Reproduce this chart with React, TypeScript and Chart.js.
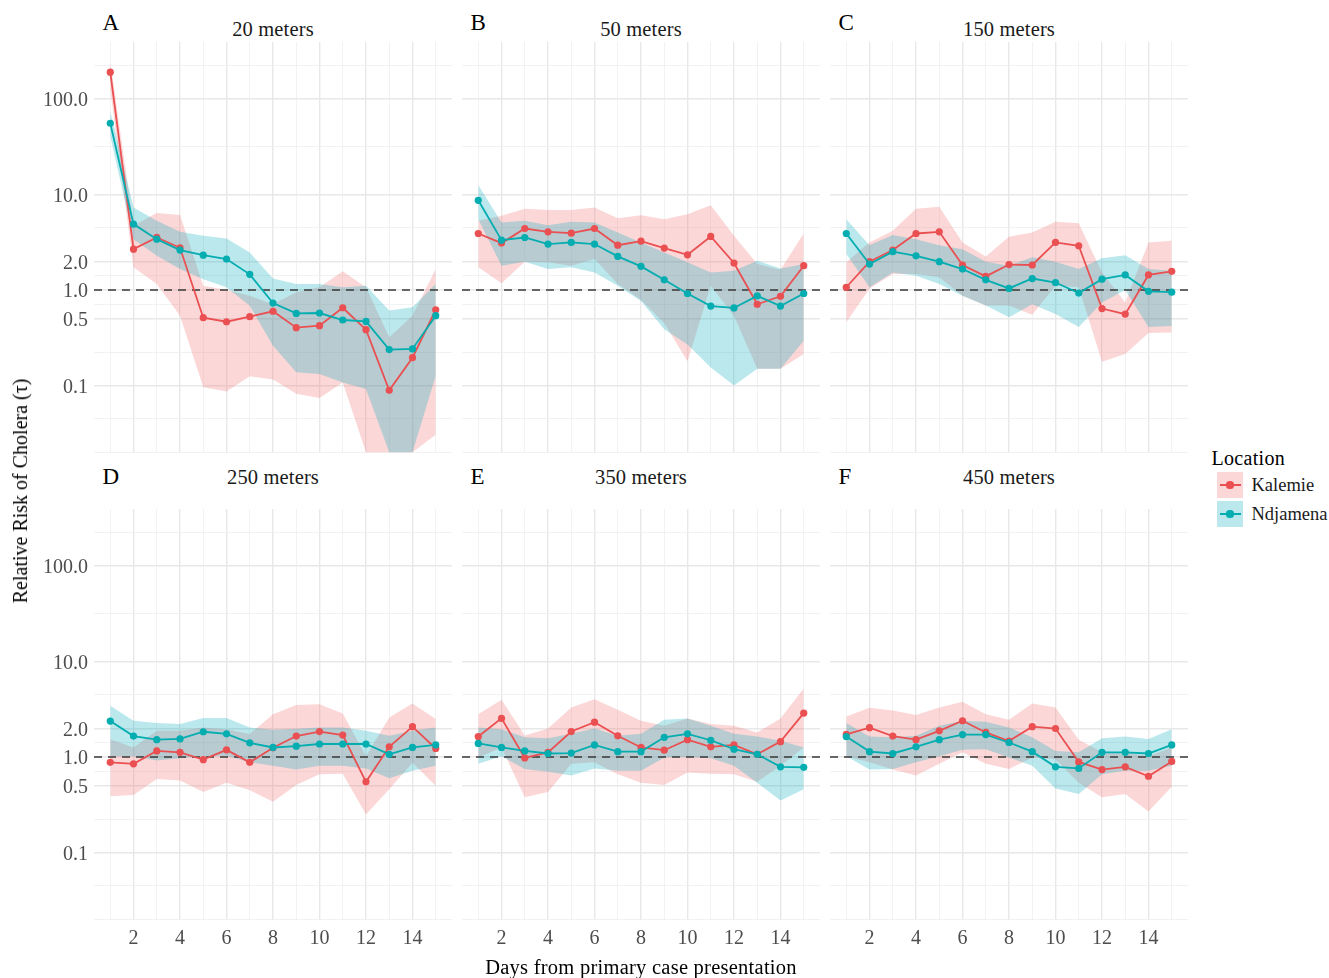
import React, { useEffect, useRef } from 'react';
import { Chart, registerables } from 'chart.js';

Chart.register(...registerables);

// ---------------- data ----------------
const DAYS = [1, 2, 3, 4, 5, 6, 7, 8, 9, 10, 11, 12, 13, 14, 15];
const X_TICKS = [2, 4, 6, 8, 10, 12, 14];
const Y_TICKS = [0.1, 0.5, 1, 2, 10, 100];
const Y_TICK_LABELS = ['0.1', '0.5', '1.0', '2.0', '10.0', '100.0'];
const REF_LINE = 1;

const PANEL_LETTERS = ['A', 'B', 'C', 'D', 'E', 'F'];
const PANEL_TITLES = ['20 meters', '50 meters', '150 meters', '250 meters', '350 meters', '450 meters'];
const LOCATIONS = ['Kalemie', 'Ndjamena'];

// 20 meters
const KAL_A = [191, 2.68, 3.56, 2.77, 0.514, 0.466, 0.526, 0.6, 0.404, 0.424, 0.653, 0.385, 0.0894, 0.196, 0.622];
const KAL_A_LO = [126, 1.73, 1.16, 0.54, 0.096, 0.087, 0.125, 0.116, 0.082, 0.074, 0.108, 0.02, 0.02, 0.02, 0.0305];
const KAL_A_HI = [250, 4.7, 6.4, 6.1, 1.11, 1.0, 0.87, 0.71, 0.95, 1.07, 1.57, 1.07, 0.32, 0.54, 1.66];
const NDJ_A = [55.7, 4.9, 3.41, 2.62, 2.32, 2.11, 1.46, 0.731, 0.57, 0.575, 0.486, 0.47, 0.238, 0.242, 0.539];
const NDJ_A_LO = [41, 3.41, 2.28, 1.66, 1.3, 1.07, 0.686, 0.262, 0.138, 0.132, 0.108, 0.092, 0.02, 0.02, 0.127];
const NDJ_A_HI = [75, 7.3, 5.3, 4.07, 3.7, 3.47, 2.48, 1.32, 1.16, 1.16, 1.07, 1.11, 0.61, 0.66, 1.16];

// 50 meters
const KAL_B = [3.91, 3.1, 4.41, 4.07, 3.94, 4.41, 2.95, 3.25, 2.75, 2.34, 3.64, 1.92, 0.71, 0.86, 1.8];
const KAL_B_LO = [1.73, 1.18, 1.98, 1.95, 1.8, 2.11, 1.16, 0.79, 0.45, 0.18, 1.11, 0.54, 0.15, 0.15, 0.214];
const KAL_B_HI = [5.3, 6.0, 7.1, 6.9, 6.9, 7.3, 5.66, 6.08, 5.52, 6.23, 7.73, 3.7, 1.87, 1.63, 3.91];
const NDJ_B = [8.7, 3.33, 3.55, 3.03, 3.15, 3.03, 2.25, 1.77, 1.28, 0.92, 0.68, 0.65, 0.87, 0.68, 0.92];
const NDJ_B_LO = [5.5, 1.8, 1.98, 1.66, 1.73, 1.53, 1.11, 0.77, 0.39, 0.27, 0.155, 0.1, 0.15, 0.15, 0.295];
const NDJ_B_HI = [12.6, 5.1, 5.3, 4.78, 5.18, 5.1, 4.0, 3.15, 2.48, 1.95, 1.53, 1.59, 2.03, 1.68, 1.87];

// 150 meters
const KAL_C = [1.07, 1.98, 2.62, 3.91, 4.07, 1.83, 1.39, 1.85, 1.83, 3.15, 2.91, 0.64, 0.56, 1.44, 1.57];
const KAL_C_LO = [0.46, 1.04, 1.47, 1.47, 1.36, 0.87, 0.69, 0.69, 0.55, 1.11, 1.07, 0.178, 0.214, 0.355, 0.36];
const KAL_C_HI = [1.95, 3.15, 4.17, 7.1, 7.43, 3.15, 2.25, 3.61, 4.0, 5.18, 5.0, 1.53, 0.74, 3.15, 3.28];
const NDJ_C = [3.91, 1.87, 2.52, 2.28, 1.98, 1.66, 1.28, 1.04, 1.32, 1.2, 0.93, 1.3, 1.44, 0.97, 0.95];
const NDJ_C_LO = [2.38, 1.07, 1.53, 1.41, 1.16, 0.87, 0.69, 0.52, 0.71, 0.56, 0.41, 0.74, 1.0, 0.41, 0.42];
const NDJ_C_HI = [5.5, 2.95, 3.76, 3.41, 2.95, 2.68, 1.98, 1.8, 2.2, 1.98, 1.66, 2.15, 2.32, 1.66, 1.59];

// 250 meters
const KAL_D = [0.88, 0.85, 1.16, 1.12, 0.94, 1.19, 0.88, 1.25, 1.66, 1.85, 1.7, 0.55, 1.28, 2.08, 1.23];
const KAL_D_LO = [0.39, 0.4, 0.59, 0.57, 0.43, 0.54, 0.45, 0.34, 0.51, 0.66, 0.67, 0.25, 0.46, 0.87, 0.5];
const KAL_D_HI = [1.54, 1.26, 1.88, 1.88, 2.04, 1.96, 1.74, 2.81, 3.5, 3.58, 2.86, 1.02, 2.6, 3.64, 2.5];
const NDJ_D = [2.38, 1.66, 1.52, 1.55, 1.84, 1.75, 1.41, 1.26, 1.3, 1.37, 1.37, 1.37, 1.07, 1.26, 1.34];
const NDJ_D_LO = [1.02, 1.02, 0.92, 0.97, 1.02, 1.03, 0.88, 0.81, 0.74, 0.81, 0.81, 0.76, 0.6, 0.72, 0.81];
const NDJ_D_HI = [3.44, 2.4, 2.27, 2.22, 2.56, 2.56, 2.04, 1.93, 1.98, 2.04, 2.04, 1.88, 1.67, 1.88, 2.04];

// 350 meters
const KAL_E = [1.64, 2.54, 0.98, 1.12, 1.85, 2.32, 1.67, 1.26, 1.18, 1.52, 1.28, 1.34, 1.07, 1.45, 2.88];
const KAL_E_LO = [0.99, 1.26, 0.38, 0.43, 0.85, 0.88, 0.66, 0.54, 0.51, 0.69, 0.67, 0.66, 0.55, 0.81, 1.26];
const KAL_E_HI = [2.81, 3.97, 1.68, 1.99, 3.3, 4.04, 3.12, 2.4, 2.13, 2.54, 2.22, 2.13, 1.81, 2.54, 5.22];
const NDJ_E = [1.39, 1.26, 1.16, 1.09, 1.1, 1.34, 1.14, 1.14, 1.61, 1.75, 1.5, 1.21, 1.07, 0.79, 0.78];
const NDJ_E_LO = [0.85, 1.02, 0.75, 0.7, 0.64, 0.76, 0.72, 0.72, 0.99, 1.0, 0.97, 0.81, 0.54, 0.35, 0.46];
const NDJ_E_HI = [2.04, 1.96, 1.61, 1.57, 1.75, 1.99, 1.67, 1.75, 2.46, 2.54, 2.13, 1.75, 1.64, 1.48, 1.26];

// 450 meters
const KAL_F = [1.73, 2.03, 1.66, 1.52, 1.88, 2.4, 1.81, 1.47, 2.08, 1.99, 0.89, 0.74, 0.79, 0.63, 0.9];
const KAL_F_LO = [1.02, 0.88, 0.74, 0.64, 0.85, 1.12, 0.85, 0.75, 0.99, 0.95, 0.54, 0.38, 0.41, 0.27, 0.49];
const KAL_F_HI = [2.66, 3.28, 3.08, 2.75, 3.3, 3.79, 2.81, 2.46, 3.64, 3.3, 1.52, 1.12, 1.12, 1.02, 1.26];
const NDJ_F = [1.64, 1.14, 1.09, 1.28, 1.52, 1.72, 1.72, 1.42, 1.14, 0.79, 0.76, 1.12, 1.12, 1.09, 1.34];
const NDJ_F_LO = [1.02, 0.74, 0.75, 0.88, 1.02, 1.19, 1.21, 0.99, 0.81, 0.47, 0.41, 0.66, 0.72, 0.72, 0.81];
const NDJ_F_HI = [2.27, 1.64, 1.61, 1.67, 2.13, 2.4, 2.34, 2.04, 1.61, 1.16, 1.12, 1.57, 1.64, 1.55, 1.96];

const KAL_SERIES = [
  [KAL_A, KAL_A_LO, KAL_A_HI], [KAL_B, KAL_B_LO, KAL_B_HI], [KAL_C, KAL_C_LO, KAL_C_HI],
  [KAL_D, KAL_D_LO, KAL_D_HI], [KAL_E, KAL_E_LO, KAL_E_HI], [KAL_F, KAL_F_LO, KAL_F_HI],
];
const NDJ_SERIES = [
  [NDJ_A, NDJ_A_LO, NDJ_A_HI], [NDJ_B, NDJ_B_LO, NDJ_B_HI], [NDJ_C, NDJ_C_LO, NDJ_C_HI],
  [NDJ_D, NDJ_D_LO, NDJ_D_HI], [NDJ_E, NDJ_E_LO, NDJ_E_HI], [NDJ_F, NDJ_F_LO, NDJ_F_HI],
];

// ---------------- style / layout ----------------
const FONT = "'Liberation Serif', 'Times New Roman', serif";
const KAL_COLOR = '#EA5052';
const NDJ_COLOR = '#03ADB0';
const KAL_FILL = 'rgba(242,110,110,0.28)';
const NDJ_FILL = 'rgba(0,170,190,0.27)';
const TICK_COLOR = '#4D4D4D';
const GRID_MAJOR = '#E8E8E8';
const GRID_MINOR = '#EFEFEF';

const X_MIN = 0.3;
const X_MAX = 15.7;
const Y_MIN = 0.0197;
const Y_MAX = 395;

const PANEL_LEFT = [94, 462, 830];
const PANEL_TOP = [42, 509];
const PANEL_W = 358;
const PANEL_H = 411;
const Y_AXIS_W = 94;
const X_AXIS_H = 40;
const STRIP_TOP = [19.3, 467.3];
const LETTER_TOP = [10.7, 464.7];

// grid positions (ggplot-style major + minor breaks)
const X_GRID = DAYS;
const Y_GRID = (() => {
  const logs = Y_TICKS.map((v) => Math.log10(v));
  const bd = logs[1] - logs[0];
  const ext = [logs[0] - bd, ...logs, logs[logs.length - 1] + bd];
  const out: number[] = [];
  for (let i = 0; i < ext.length - 1; i++) {
    out.push(ext[i], (ext[i] + ext[i + 1]) / 2);
  }
  out.push(ext[ext.length - 1]);
  return out.map((l) => Math.pow(10, l));
})();

const isYMajor = (v: number) => Y_TICKS.some((t) => Math.abs(Math.log10(t) - Math.log10(v)) < 1e-6);
const yLabel = (v: number) => {
  const i = Y_TICKS.findIndex((t) => Math.abs(Math.log10(t) - Math.log10(v)) < 1e-6);
  return i >= 0 ? Y_TICK_LABELS[i] : '';
};

const pts = (arr: number[]) => DAYS.map((d, i) => ({ x: d, y: arr[i] }));

function Panel({ idx }: { idx: number }) {
  const ref = useRef<HTMLCanvasElement>(null);
  const col = idx % 3;
  const row = Math.floor(idx / 3);
  const showY = col === 0;
  const showX = row === 1;
  const left = showY ? PANEL_LEFT[col] - Y_AXIS_W : PANEL_LEFT[col];
  const width = showY ? PANEL_W + Y_AXIS_W : PANEL_W;
  const top = PANEL_TOP[row];
  const height = showX ? PANEL_H + X_AXIS_H : PANEL_H;

  useEffect(() => {
    const [kEst, kLo, kHi] = KAL_SERIES[idx];
    const [nEst, nLo, nHi] = NDJ_SERIES[idx];
    const clear = 'rgba(0,0,0,0)';
    const ribbon = (data: number[], fill: any, bg: string, order: number) => ({
      data: pts(data),
      borderColor: clear,
      borderWidth: 1,
      pointRadius: 0,
      fill,
      backgroundColor: bg,
      order,
    });
    const chart = new Chart(ref.current as HTMLCanvasElement, {
      type: 'line',
      data: {
        datasets: [
          ribbon(kHi, '+1', KAL_FILL, 7),
          ribbon(kLo, false, clear, 6),
          ribbon(nHi, '+1', NDJ_FILL, 5),
          ribbon(nLo, false, clear, 4),
          {
            data: [{ x: X_MIN, y: REF_LINE }, { x: X_MAX, y: REF_LINE }],
            borderColor: '#3A3A3A',
            borderWidth: 1.6,
            borderDash: [8, 6],
            pointRadius: 0,
            fill: false,
            order: 3,
          },
          {
            label: LOCATIONS[0],
            data: pts(kEst),
            borderColor: KAL_COLOR,
            backgroundColor: KAL_COLOR,
            borderWidth: 1.8,
            pointRadius: 3.6,
            pointBorderWidth: 0,
            fill: false,
            order: 2,
          },
          {
            label: LOCATIONS[1],
            data: pts(nEst),
            borderColor: NDJ_COLOR,
            backgroundColor: NDJ_COLOR,
            borderWidth: 1.8,
            pointRadius: 3.6,
            pointBorderWidth: 0,
            fill: false,
            order: 1,
          },
        ] as any,
      },
      options: {
        responsive: false,
        animation: false,
        events: [],
        layout: { padding: 0, autoPadding: false },
        plugins: { legend: { display: false }, tooltip: { enabled: false }, title: { display: false } },
        scales: {
          x: {
            type: 'linear',
            min: X_MIN,
            max: X_MAX,
            bounds: 'data',
            afterBuildTicks: (s: any) => {
              s.ticks = X_GRID.map((v) => ({ value: v }));
            },
            afterFit: (s: any) => {
              s.height = showX ? X_AXIS_H : 0;
              s.paddingLeft = 0;
              s.paddingRight = 0;
            },
            ticks: {
              display: showX,
              autoSkip: false,
              maxRotation: 0,
              padding: 7,
              color: TICK_COLOR,
              font: { family: FONT, size: 20 },
              callback: (v: any) => (X_TICKS.includes(Number(v)) ? String(v) : ''),
            },
            grid: {
              drawTicks: false,
              color: (c: any) => (X_TICKS.includes(c.tick?.value) ? GRID_MAJOR : GRID_MINOR),
              lineWidth: (c: any) => (X_TICKS.includes(c.tick?.value) ? 1.4 : 0.8),
            },
            border: { display: false },
          },
          y: {
            type: 'logarithmic',
            min: Y_MIN,
            max: Y_MAX,
            bounds: 'data',
            afterBuildTicks: (s: any) => {
              s.ticks = Y_GRID.map((v) => ({ value: v }));
            },
            afterFit: (s: any) => {
              s.width = showY ? Y_AXIS_W : 0;
              s.paddingTop = 0;
              s.paddingBottom = 0;
            },
            ticks: {
              display: showY,
              autoSkip: false,
              padding: 6,
              labelOffset: 2,
              color: TICK_COLOR,
              font: { family: FONT, size: 20 },
              callback: (v: any) => yLabel(Number(v)),
            },
            grid: {
              drawTicks: false,
              color: (c: any) => (c.tick && isYMajor(c.tick.value) ? GRID_MAJOR : GRID_MINOR),
              lineWidth: (c: any) => (c.tick && isYMajor(c.tick.value) ? 1.4 : 0.8),
            },
            border: { display: false },
          },
        },
      } as any,
    });
    return () => chart.destroy();
  }, [idx]);

  return (
    <canvas
      ref={ref}
      width={width}
      height={height}
      style={{ position: 'absolute', left, top, width, height }}
    />
  );
}

const textBase: React.CSSProperties = {
  position: 'absolute',
  fontFamily: FONT,
  lineHeight: 1,
  whiteSpace: 'nowrap',
};

export default function App() {
  return (
    <div
      style={{
        position: 'fixed',
        left: 0,
        top: 0,
        width: 1329,
        height: 978,
        background: '#FFFFFF',
        overflow: 'hidden',
      }}
    >
      {PANEL_TITLES.map((_, i) => (
        <Panel key={'p' + i} idx={i} />
      ))}
      {PANEL_TITLES.map((t, i) => {
        const col = i % 3;
        const row = Math.floor(i / 3);
        return (
          <React.Fragment key={'t' + i}>
            <div
              style={{
                ...textBase,
                left: PANEL_LEFT[col],
                width: PANEL_W,
                textAlign: 'center',
                top: STRIP_TOP[row],
                fontSize: 20.5,
                letterSpacing: 0.15,
                color: '#1A1A1A',
              }}
            >
              {t}
            </div>
            <div
              style={{
                ...textBase,
                left: PANEL_LEFT[col] + 8.5,
                top: LETTER_TOP[row],
                fontSize: 23,
                color: '#000',
              }}
            >
              {PANEL_LETTERS[i]}
            </div>
          </React.Fragment>
        );
      })}
      <div
        style={{
          ...textBase,
          left: PANEL_LEFT[0],
          width: PANEL_LEFT[2] + PANEL_W - PANEL_LEFT[0],
          textAlign: 'center',
          top: 957,
          fontSize: 20.5,
          letterSpacing: 0.25,
          color: '#000',
        }}
      >
        Days from primary case presentation
      </div>
      <div
        style={{
          ...textBase,
          left: 20,
          top: 491,
          fontSize: 20,
          color: '#000',
          transform: 'translate(-50%, -50%) rotate(-90deg)',
        }}
      >
        Relative Risk of Cholera (τ)
      </div>
      {/* legend */}
      <div style={{ ...textBase, left: 1211.5, top: 448.3, fontSize: 20, letterSpacing: 0.3, color: '#000' }}>
        Location
      </div>
      {LOCATIONS.map((loc, i) => {
        const color = i === 0 ? KAL_COLOR : NDJ_COLOR;
        const fill = i === 0 ? KAL_FILL : NDJ_FILL;
        const boxTop = 472 + i * 29;
        return (
          <React.Fragment key={'l' + i}>
            <div
              style={{ position: 'absolute', left: 1217, top: boxTop, width: 26, height: 26, background: fill }}
            />
            <div
              style={{ position: 'absolute', left: 1219.5, top: boxTop + 12.1, width: 21, height: 1.8, background: color }}
            />
            <div
              style={{
                position: 'absolute',
                left: 1230 - 3.6,
                top: boxTop + 13 - 3.6,
                width: 7.2,
                height: 7.2,
                borderRadius: '50%',
                background: color,
              }}
            />
            <div
              style={{
                ...textBase,
                left: 1251.5,
                top: boxTop,
                height: 26,
                lineHeight: '26px',
                fontSize: 18.5,
                color: '#1A1A1A',
              }}
            >
              {loc}
            </div>
          </React.Fragment>
        );
      })}
    </div>
  );
}
